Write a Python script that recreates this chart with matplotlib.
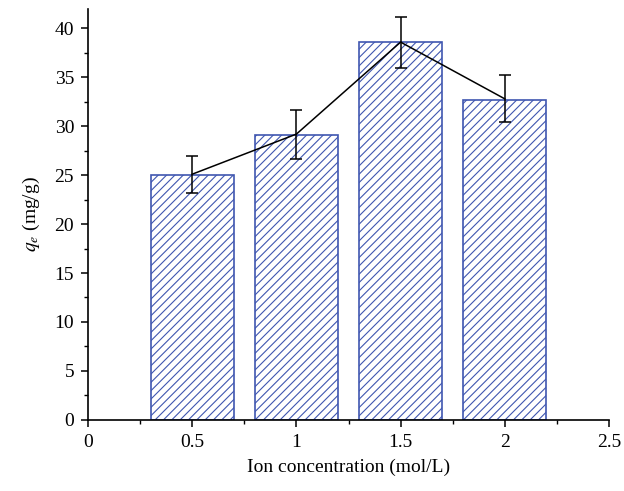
import matplotlib
matplotlib.use("Agg")
import matplotlib.pyplot as plt
from matplotlib.ticker import MultipleLocator

plt.rcParams["font.family"] = "Liberation Serif"
plt.rcParams["mathtext.fontset"] = "stix"
plt.rcParams["hatch.linewidth"] = 0.8

# ---- data ----
conc = [0.5, 1.0, 1.5, 2.0]
qe_bar = [25.0, 29.1, 38.6, 32.7]
qe_line = [25.1, 29.2, 38.6, 32.8]
qe_err = [1.9, 2.5, 2.6, 2.4]

blue = "#3f56b0"

fig = plt.figure(figsize=(6.24, 4.91), dpi=100)
ax = fig.add_axes([0.141, 0.145, 0.835, 0.837])

ax.bar(conc, qe_bar, width=0.4, color="white", edgecolor=blue,
       hatch="////", linewidth=1.2, zorder=2)
ax.errorbar(conc, qe_line, yerr=qe_err, color="black", linewidth=1.1,
            elinewidth=1.1, capsize=4, capthick=1.1, zorder=3)

ax.set_xlim(0, 2.5)
ax.set_ylim(0, 42)
ax.xaxis.set_minor_locator(MultipleLocator(0.25))
ax.yaxis.set_major_locator(MultipleLocator(5))
ax.yaxis.set_minor_locator(MultipleLocator(2.5))
ax.set_xticks([0, 0.5, 1, 1.5, 2, 2.5])
ax.set_xticklabels(["0", "0.5", "1", "1.5", "2", "2.5"])

for s in ["top", "right"]:
    ax.spines[s].set_visible(False)
for s in ["left", "bottom"]:
    ax.spines[s].set_linewidth(1.2)

ax.tick_params(which="major", direction="out", length=5, width=1.1, labelsize=14)
ax.tick_params(which="minor", direction="out", length=3, width=1.0)
ax.tick_params(axis="x", pad=5)
ax.tick_params(axis="y", pad=5)

ax.set_xlabel("Ion concentration (mol/L)", fontsize=14, labelpad=6)
ax.set_ylabel("$q_e$ (mg/g)", fontsize=14, labelpad=9)

plt.savefig("out.png", dpi=100)
